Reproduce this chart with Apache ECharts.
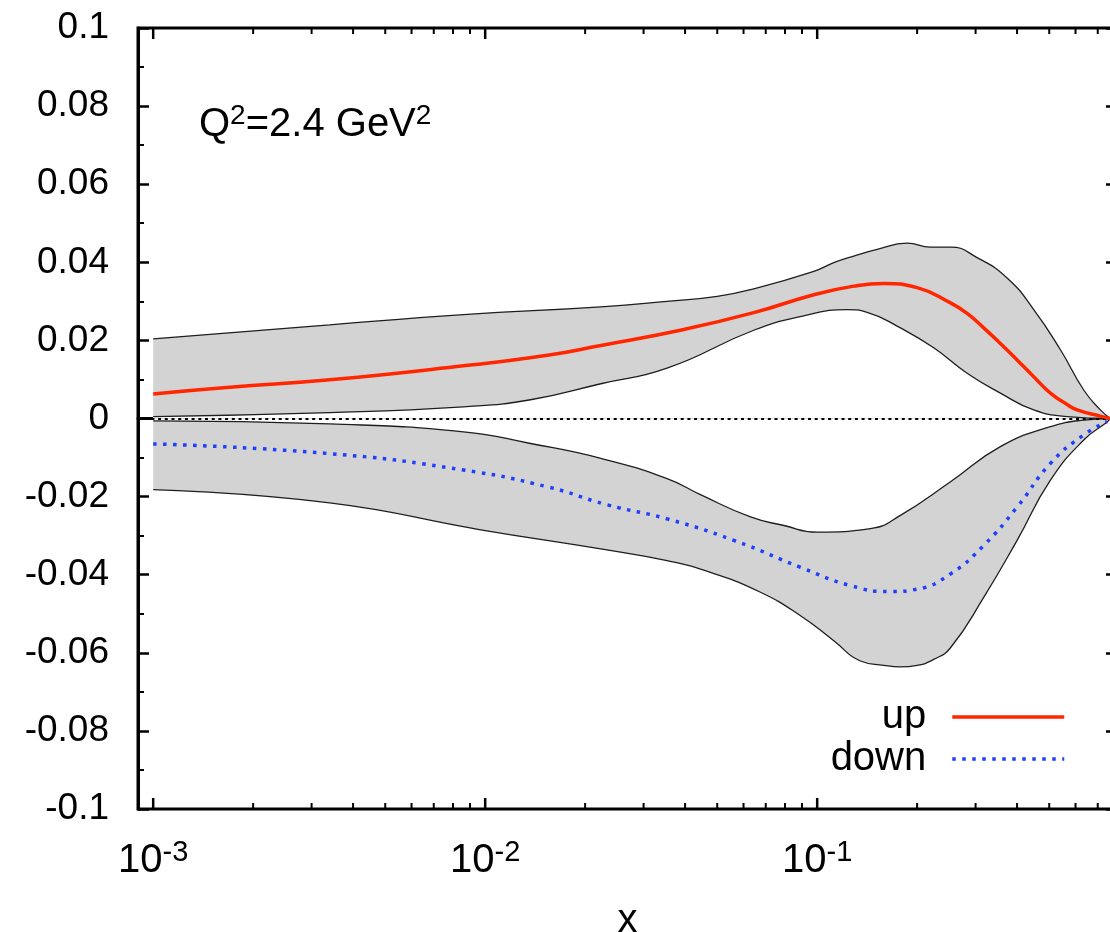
<!DOCTYPE html>
<html>
<head>
<meta charset="utf-8">
<script src="https://cdn.jsdelivr.net/npm/echarts@6/dist/echarts.min.js"></script>
<style>
  html, body { margin: 0; padding: 0; background: #fff; }
  #chart { width: 1110px; height: 932px; }
</style>
</head>
<body>
<div id="chart"></div>
<script>
// Up-quark band: upper edge, central value, lower edge  [x, value]
const upHigh = [
  [0.001, 0.0204], [0.0034, 0.0240], [0.0086, 0.0266], [0.0223, 0.0286], [0.0353, 0.0300],
  [0.05, 0.0313], [0.0644, 0.0332], [0.0977, 0.0377], [0.1122, 0.0399], [0.1289, 0.0416],
  [0.1516, 0.0433], [0.1866, 0.0449], [0.2194, 0.0439], [0.2521, 0.0439], [0.3032, 0.0412],
  [0.3733, 0.0360], [0.449, 0.0279], [0.5404, 0.0176], [0.6351, 0.0073], [0.7128, 0.0022],
  [0.764, 0]
];
const upMid = [
  [0.001, 0.0063], [0.0017, 0.0080], [0.0034, 0.0099], [0.0086, 0.0135], [0.0154, 0.0162],
  [0.0223, 0.0187], [0.0397, 0.0228], [0.0644, 0.0271], [0.0977, 0.0317], [0.1289, 0.0339],
  [0.1587, 0.0346], [0.2, 0.0335], [0.2521, 0.0296], [0.2829, 0.0269], [0.3174, 0.0232],
  [0.3563, 0.0192], [0.4001, 0.0150], [0.449, 0.0107], [0.5042, 0.0065], [0.566, 0.0036],
  [0.6066, 0.0022], [0.7128, 0.0006], [0.764, 0]
];
const upLow = [
  [0.001, 0.0005], [0.0034, 0.0015], [0.0086, 0.0030], [0.0137, 0.0048], [0.0223, 0.0089],
  [0.0353, 0.0129], [0.0644, 0.0226], [0.0911, 0.0263], [0.1231, 0.0279],
  [0.1414, 0.0272], [0.1781, 0.0232], [0.2244, 0.0181], [0.2829, 0.0116], [0.3563, 0.0065],
  [0.449, 0.0022], [0.566, 0.0005], [0.764, 0]
];

// Down-quark band: upper edge, central value, lower edge
const downHigh = [
  [0.001, -0.0006], [0.0034, -0.0014], [0.0086, -0.0034], [0.0137, -0.0064], [0.0223, -0.0102],
  [0.0353, -0.0154], [0.0445, -0.0195], [0.063, -0.0252], [0.0794, -0.0274], [0.1, -0.0291],
  [0.1447, -0.0282], [0.1781, -0.0248], [0.2521, -0.0162], [0.3563, -0.0072], [0.5042, -0.0021],
  [0.6351, -0.0004], [0.764, 0]
];
const downMid = [
  [0.001, -0.0065], [0.0034, -0.0090], [0.0086, -0.0132], [0.0154, -0.0175], [0.0233, -0.0221],
  [0.0353, -0.0257], [0.0561, -0.0312], [0.0891, -0.0381], [0.126, -0.0428], [0.1662, -0.0443],
  [0.2, -0.0437], [0.2521, -0.0398], [0.3174, -0.0325], [0.4001, -0.0227], [0.5042, -0.0115],
  [0.6351, -0.0042], [0.747, -0.0008]
];
const downLow = [
  [0.001, -0.0182], [0.0034, -0.0216], [0.0097, -0.0285], [0.0223, -0.0334], [0.0353, -0.0364],
  [0.0477, -0.0394], [0.0675, -0.0445], [0.0891, -0.0505], [0.1122, -0.0569], [0.135, -0.0621],
  [0.1587, -0.0632], [0.1781, -0.0636], [0.2, -0.0632], [0.2244, -0.0617], [0.2521, -0.0587],
  [0.3174, -0.0458], [0.4001, -0.0312], [0.5042, -0.0158], [0.6351, -0.0055], [0.747, -0.0009],
  [0.764, 0]
];

// Axis ranges and tick positions on the logarithmic x axis
const xRange = [0.0009, 0.8];
const yRange = [-0.1, 0.1];
const yStep = 0.02;
const xTicks = [];
[0.001, 0.01, 0.1].forEach(function (decade) {
  for (let k = 1; k <= 9; k++) {
    const v = +(k * decade).toPrecision(3);
    if (v > xRange[0] && v < xRange[1]) xTicks.push(v);
  }
});

const seriesNames = ['up', 'down'];
const annotation = '{q|Q}{s|2}{q|=2.4 GeV}{s|2}';

const FONT = "'Liberation Sans', Arial, Helvetica, sans-serif";
const BAND_FILL = '#d3d3d3';
const EDGE = '#1e1e1e';
const UP_COLOR = '#ff2600';
const DOWN_COLOR = '#1f3fff';

function isDecade(v) {
  const e = Math.log10(v);
  return Math.abs(e - Math.round(e)) < 1e-4;
}

function areaSeries(data, fill) {
  return {
    type: 'line', data: data, smooth: true, symbol: 'none', silent: true,
    lineStyle: { width: 0, opacity: 0 },
    areaStyle: { color: fill, opacity: 1 },
    z: 1
  };
}
function edgeSeries(data, extra) {
  return Object.assign({
    type: 'line', data: data, smooth: true, symbol: 'none', silent: true,
    lineStyle: { color: EDGE, width: 1.3 },
    z: 3
  }, extra || {});
}

const chart = echarts.init(document.getElementById('chart'), null, { renderer: 'canvas' });

const yAxisCommon = {
  type: 'value', min: yRange[0], max: yRange[1], interval: yStep,
  splitLine: { show: false },
  axisLine: { show: true, lineStyle: { color: '#000', width: 3 } },
  axisTick: { show: true, inside: true, length: 11, lineStyle: { color: '#000', width: 2.5 } },
  minorTick: { show: true, splitNumber: 2, length: 6, lineStyle: { color: '#000', width: 2 } },
  minorSplitLine: { show: false }
};

chart.setOption({
  animation: false,
  backgroundColor: '#fff',
  textStyle: { fontFamily: FONT },
  grid: {
    left: 138, top: 28, right: -7, bottom: 123,
    containLabel: false, outerBoundsMode: 'none',
    show: true, borderColor: '#000', borderWidth: 3, backgroundColor: 'transparent'
  },
  xAxis: {
    type: 'log', logBase: 10, min: xRange[0], max: xRange[1],
    name: 'x', nameLocation: 'middle', nameGap: 92,
    nameTextStyle: { fontSize: 40, color: '#000', fontFamily: FONT },
    splitLine: { show: false },
    axisLine: { show: true, lineStyle: { color: '#000', width: 3 } },
    axisTick: { show: false },
    minorTick: { show: false },
    axisLabel: {
      margin: 29, color: '#000', fontFamily: FONT,
      showMinLabel: true, showMaxLabel: true,
      formatter: function (v) {
        if (!isDecade(v)) return '';
        return '{b|10}{s|' + Math.round(Math.log10(v)) + '}';
      },
      rich: {
        b: { fontSize: 40, lineHeight: 46, fontFamily: FONT, color: '#000' },
        s: { fontSize: 29, lineHeight: 12, verticalAlign: 'top', fontFamily: FONT, color: '#000' }
      }
    }
  },
  yAxis: [
    Object.assign({}, yAxisCommon, {
      position: 'left',
      axisLabel: { margin: 29, fontSize: 37, color: '#000', fontFamily: FONT }
    }),
    Object.assign({}, yAxisCommon, {
      position: 'right',
      axisLabel: { show: false }
    })
  ],
  legend: {
    data: seriesNames,
    orient: 'vertical', align: 'right',
    right: 44, top: 697, padding: 0,
    itemWidth: 112, itemHeight: 14, itemGap: 2,
    selectedMode: false,
    lineStyle: { width: 3.5 },
    itemStyle: { opacity: 0, borderWidth: 0 },
    textStyle: {
      color: '#000', fontFamily: FONT, fontSize: 40,
      rich: {
        t: { fontSize: 40, lineHeight: 40, fontFamily: FONT, color: '#000' },
        g: { width: 21, fontSize: 40, lineHeight: 40 }
      }
    },
    formatter: function (name) { return '{t|' + name + '}{g| }'; }
  },
  graphic: [{
    type: 'text', left: 199, top: 102, silent: true,
    style: {
      text: annotation,
      fill: '#000',
      fontSize: 40,
      fontFamily: FONT,
      rich: {
        q: { fontSize: 40, lineHeight: 46, fontFamily: FONT, fill: '#000' },
        s: { fontSize: 28, lineHeight: 14, verticalAlign: 'top', fontFamily: FONT, fill: '#000' }
      }
    }
  }],
  series: [
    // filled error bands (gray between edges, white back to zero)
    areaSeries(upHigh, BAND_FILL),
    areaSeries(upLow, '#ffffff'),
    areaSeries(downLow, BAND_FILL),
    areaSeries(downHigh, '#ffffff'),
    // band edges
    edgeSeries(upHigh),
    edgeSeries(upLow, {
      markLine: {
        silent: true, symbol: ['none', 'none'], label: { show: false },
        lineStyle: { color: '#000', width: 2, type: [3, 3.7] },
        emphasis: { disabled: true },
        data: [{ yAxis: 0 }]
      }
    }),
    edgeSeries(downHigh),
    edgeSeries(downLow),
    // central curves
    {
      name: seriesNames[0], type: 'line', data: upMid, smooth: true, symbol: 'none', z: 6,
      itemStyle: { color: UP_COLOR },
      lineStyle: { color: UP_COLOR, width: 3.5 }
    },
    {
      name: seriesNames[1], type: 'line', data: downMid, smooth: true, symbol: 'none', z: 6,
      itemStyle: { color: DOWN_COLOR },
      lineStyle: { color: DOWN_COLOR, width: 3.5, type: [3.5, 6.5], cap: 'butt' }
    },
    // minor and major ticks of the log x axis, on the bottom and top frame edges
    {
      type: 'custom', silent: true, z: 7,
      data: xTicks.map(function (v) { return [v, 0]; }),
      encode: { x: 0, y: 1 },
      renderItem: function (params, api) {
        const v = api.value(0);
        const px = api.coord([v, 0])[0];
        const cs = params.coordSys;
        const len = isDecade(v) ? 11 : 6;
        const w = isDecade(v) ? 2.5 : 2;
        const yb = cs.y + cs.height, yt = cs.y;
        return {
          type: 'group',
          children: [
            { type: 'line', shape: { x1: px, y1: yb, x2: px, y2: yb - len }, style: { stroke: '#000', lineWidth: w } },
            { type: 'line', shape: { x1: px, y1: yt, x2: px, y2: yt + len }, style: { stroke: '#000', lineWidth: w } }
          ]
        };
      }
    }
  ]
});
</script>
</body>
</html>
